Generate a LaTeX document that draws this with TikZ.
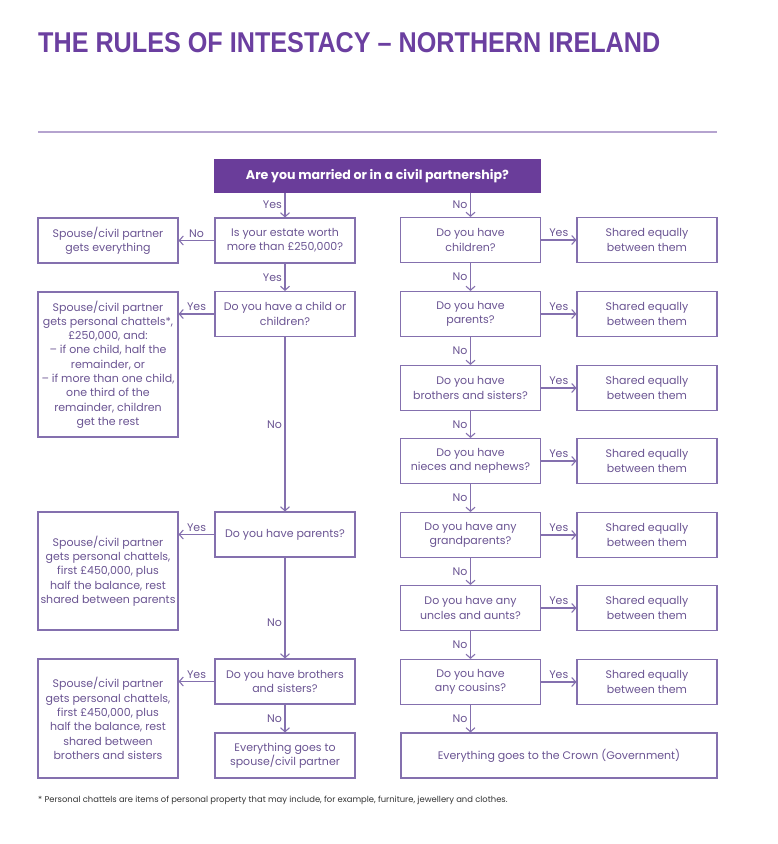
\documentclass[tikz,border=0pt]{standalone}
\usepackage{fontspec}
\setmainfont{Poppins}
\newfontfamily\titlefont{Liberation Sans}
\usepackage{graphicx}
\usetikzlibrary{arrows.meta}
\usetikzlibrary{positioning}

\definecolor{titlepurple}{HTML}{6B3FA0}
\definecolor{toppurple}{HTML}{6A3D9A}
\definecolor{boxline}{HTML}{8470AE}
\definecolor{boxtext}{HTML}{6A5492}
\definecolor{rulepurple}{HTML}{B5A3CF}
\definecolor{footgray}{HTML}{333333}

\tikzset{
  box/.style={draw=boxline, line width=1.1pt, text=boxtext, align=center, inner sep=0pt,
    minimum width=140pt, minimum height=45pt,
    font=\fontsize{11}{14.3}\selectfont},
  flow/.style={draw=boxline, line width=1.1pt, -{Straight Barb[length=4pt,width=9pt]}},
  lab/.style={text=boxtext, font=\fontsize{11}{13}\selectfont, inner sep=2.5pt}
}

\begin{document}
\begin{tikzpicture}[x=1pt, y=-1pt]

\useasboundingbox (0,0) rectangle (778,844);

% heading
\node[anchor=base west, inner sep=0pt, text=titlepurple] (title) at (38,52)
  {\resizebox{622pt}{20pt}{\titlefont\bfseries THE RULES OF INTESTACY – NORTHERN IRELAND}};
\draw[rulepurple, line width=1.2pt] (38,132) -- (717,132);

\node[box, fill=toppurple, draw=toppurple, text=white, minimum width=325pt, minimum height=32pt,
  font=\bfseries\fontsize{12.6}{14}\selectfont] (married) at (377.5,176)
  {Are you married or in a civil partnership?};

% married side
\node[box] (worth) at (285,240.5) {Is your estate worth\\ more than £250,000?};
\node[box] (everything) at (108,240.5) {Spouse/civil partner\\ gets everything};
\node[box] (child) at (285,314) {Do you have a child or\\ children?};
\node[box, minimum height=145pt] (childshare) at (108,364.5) {Spouse/civil partner\\ gets personal chattels*,\\ £250,000, and:\\ – if one child, half the\\ remainder, or\\ – if more than one child,\\ one third of the\\ remainder, children\\ get the rest};
\node[box] (lparents) at (285,534.5) {Do you have parents?};
\node[box, minimum height=118pt] (parentshare) at (108,571) {Spouse/civil partner\\ gets personal chattels,\\ first £450,000, plus\\ half the balance, rest\\ shared between parents};
\node[box] (lsiblings) at (285,681.5) {Do you have brothers\\ and sisters?};
\node[box, minimum height=119pt] (siblingshare) at (108,718.5) {Spouse/civil partner\\ gets personal chattels,\\ first £450,000, plus\\ half the balance, rest\\ shared between\\ brothers and sisters};
\node[box] (spouseall) at (285,755.5) {Everything goes to\\ spouse/civil partner};

% not married side
\node[box] (kids) at (470.5,240) {Do you have\\ children?};
\node[box] (skids) at (647,240) {Shared equally\\ between them};
\node[box] (parents) at (470.5,314) {Do you have\\ parents?};
\node[box] (sparents) at (647,314) {Shared equally\\ between them};
\node[box] (siblings) at (470.5,388) {Do you have\\ brothers and sisters?};
\node[box] (ssiblings) at (647,388) {Shared equally\\ between them};
\node[box] (nieces) at (470.5,461) {Do you have\\ nieces and nephews?};
\node[box] (snieces) at (647,461) {Shared equally\\ between them};
\node[box] (grand) at (470.5,535) {Do you have any\\ grandparents?};
\node[box] (sgrand) at (647,535) {Shared equally\\ between them};
\node[box] (uncles) at (470.5,608) {Do you have any\\ uncles and aunts?};
\node[box] (suncles) at (647,608) {Shared equally\\ between them};
\node[box] (cousins) at (470.5,682) {Do you have\\ any cousins?};
\node[box] (scousins) at (647,682) {Shared equally\\ between them};
\node[box, minimum width=316pt] (crown) at (559,755.5) {Everything goes to the Crown (Government)};

% arrows, married side
\draw[flow] (married.south -| worth.north) -- node[lab, left]{Yes} (worth.north);
\draw[flow] (worth.west) -- node[lab, above]{No} (everything.east);
\draw[flow] (worth.south) -- node[lab, left]{Yes} (child.north);
\draw[flow] (child.west) -- node[lab, above]{Yes} (childshare.east |- child.west);
\draw[flow] (child.south) -- node[lab, left]{No} (lparents.north);
\draw[flow] (lparents.west) -- node[lab, above]{Yes} (parentshare.east |- lparents.west);
\draw[flow] (lparents.south) -- node[lab, left, pos=0.65]{No} (lsiblings.north);
\draw[flow] (lsiblings.west) -- node[lab, above]{Yes} (siblingshare.east |- lsiblings.west);
\draw[flow] (lsiblings.south) -- node[lab, left]{No} (spouseall.north);

% arrows, not married side
\draw[flow] (married.south -| kids.north) -- node[lab, left]{No} (kids.north);
\draw[flow] (kids.east) -- node[lab, above]{Yes} (skids.west);
\draw[flow] (kids.south) -- node[lab, left]{No} (parents.north);
\draw[flow] (parents.east) -- node[lab, above]{Yes} (sparents.west);
\draw[flow] (parents.south) -- node[lab, left]{No} (siblings.north);
\draw[flow] (siblings.east) -- node[lab, above]{Yes} (ssiblings.west);
\draw[flow] (siblings.south) -- node[lab, left]{No} (nieces.north);
\draw[flow] (nieces.east) -- node[lab, above]{Yes} (snieces.west);
\draw[flow] (nieces.south) -- node[lab, left]{No} (grand.north);
\draw[flow] (grand.east) -- node[lab, above]{Yes} (sgrand.west);
\draw[flow] (grand.south) -- node[lab, left]{No} (uncles.north);
\draw[flow] (uncles.east) -- node[lab, above]{Yes} (suncles.west);
\draw[flow] (uncles.south) -- node[lab, left]{No} (cousins.north);
\draw[flow] (cousins.east) -- node[lab, above]{Yes} (scousins.west);
\draw[flow] (cousins.south) -- node[lab, left]{No} (cousins.south |- crown.north);

\node[anchor=base west, inner sep=0pt, text=footgray, font=\fontsize{8.4}{10}\selectfont] (note) at (38,802)
  {* Personal chattels are items of personal property that may include, for example, furniture, jewellery and clothes.};

\end{tikzpicture}
\end{document}
